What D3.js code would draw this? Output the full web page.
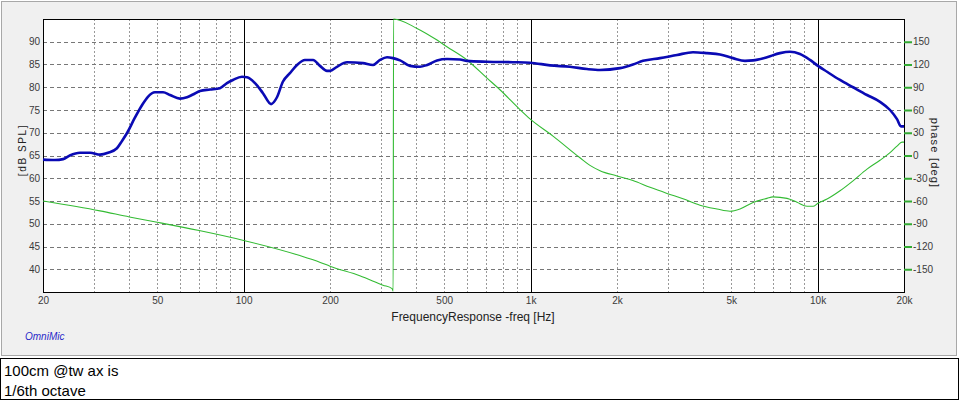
<!DOCTYPE html>
<html>
<head>
<meta charset="utf-8">
<script src="https://cdn.jsdelivr.net/npm/d3@7"></script>
<style>
  body { margin: 0; background: #ffffff; }
  svg text { font-family: "Liberation Sans Narrow", "Arial Narrow", "Liberation Sans", Arial, sans-serif; }
</style>
</head>
<body>
<div id="chart"></div>
<script>
// SPL curve
var splFreq = [20, 22, 23.5, 24.8, 26.9, 29.2, 31.6, 33.7, 36.2, 37.7, 39.3, 41.8, 44.3, 46.4, 49.1, 52.4, 55.4, 60, 63.5, 66.6,
  70.5, 76.4, 82.7, 87.5, 91.8, 98.7, 102.8, 109.6, 116.8, 124.6, 130.7, 137, 145, 153.5, 163.6, 174.6, 184.6, 195.2, 200, 211.5,
  229.3, 260.6, 282.4, 298.7, 316, 331.6, 350.8, 380, 411.9, 435.8, 472, 511.5, 567.6, 600, 704.6, 868, 995, 1169, 1371, 1572,
  1745, 2049, 2273, 2464, 2825, 3238, 3680, 4119, 4571, 5072, 5585, 5957, 6663, 7395, 8015, 8683, 9409, 10028, 10785, 11970,
  13288, 14863, 16498, 17880, 18907, 19523, 20000];
var splDb = [64.1, 64.0, 64.2, 65.0, 65.6, 65.6, 65.2, 65.6, 66.6, 68.2, 70.0, 73.3, 76.1, 77.9, 78.9, 78.9, 78.3, 77.5, 77.8, 78.4,
  79.2, 79.5, 79.8, 80.9, 81.6, 82.3, 82.2, 80.9, 78.7, 76.3, 77.8, 81.2, 83.1, 84.9, 86.0, 86.0, 84.7, 83.6, 83.6, 84.5,
  85.5, 85.3, 84.9, 86.0, 86.6, 86.4, 85.9, 84.7, 84.5, 84.9, 85.9, 86.2, 86.1, 85.8, 85.6, 85.5, 85.4, 84.8, 84.5, 84.0,
  83.8, 84.2, 85.0, 85.8, 86.4, 87.1, 87.7, 87.5, 87.2, 86.4, 85.8, 85.9, 86.6, 87.5, 87.8, 87.3, 86.0, 84.7, 83.4, 81.6,
  80.0, 78.3, 76.8, 75.0, 73.0, 71.4, 71.4];

// phase curve (wrapped at +-180)
var phaseFreq = [20, 31.6, 40, 50, 70, 100, 157, 185, 200, 254, 306, 329, 332, 333, 402, 472, 511, 600, 705, 782,
  918, 995, 1197, 1486, 1610, 1745, 2000, 2273, 2607, 2987, 3397, 3892, 4460, 4953, 5366, 5957, 6663, 6993, 7823, 8477,
  9186, 9640, 10028, 10785, 11970, 13288, 14863, 16498, 17880, 18907, 19680, 20000];
var phaseDeg = [-60, -73, -81, -88, -99, -112, -132, -141, -146, -158.6, -171, -175.5, -179, 180, 167.6, 152.2, 143.4, 126, 102, 86.7,
  60.5, 48.3, 25.6, -3, -13, -20, -27, -33, -42, -50, -57, -65.5, -70.5, -73.5, -70.5, -62, -56.5, -54.5, -56.5, -61.7,
  -67, -67, -63, -57.4, -46.5, -33.4, -18, -6.3, 3.8, 12.4, 17.7, 17.7];

var splTicks = [40, 45, 50, 55, 60, 65, 70, 75, 80, 85, 90];
var phaseTicks = [-150, -120, -90, -60, -30, 0, 30, 60, 90, 120, 150];
var freqTicks = [20, 50, 100, 200, 500, 1000, 2000, 5000, 10000, 20000];
var freqLabels = ["20", "50", "100", "200", "500", "1k", "2k", "5k", "10k", "20k"];

var W = 960, H = 401;
var pL = 43, pR = 904, pT = 19, pB = 292;

var svg = d3.select("#chart").append("svg")
  .attr("width", W).attr("height", H);

// grey panel
svg.append("rect")
  .attr("x", 1.5).attr("y", 1.5).attr("width", 955).attr("height", 354)
  .attr("fill", "#f0f0f0").attr("stroke", "#a8a8a8");

var x = d3.scaleLog().domain([20, 20000]).range([pL, pR]);
var yL = d3.scaleLinear().domain([35, 95]).range([pB, pT]);
var yR = d3.scaleLinear().domain([-180, 180]).range([pB, pT]);

svg.append("rect")
  .attr("x", pL).attr("y", pT).attr("width", pR - pL).attr("height", pB - pT)
  .attr("fill", "#ffffff");

// vertical grid
var decades = [100, 1000, 10000];
var gridF = x.ticks().filter(function(f){ return f > 20 && f < 20000; });
svg.append("g").selectAll("line")
  .data(gridF)
  .enter().append("line")
  .attr("x1", function(d){ return Math.round(x(d)) + 0.5; })
  .attr("x2", function(d){ return Math.round(x(d)) + 0.5; })
  .attr("y1", pT).attr("y2", pB)
  .attr("stroke", function(d){ return decades.indexOf(d) >= 0 ? "#000" : "#999"; })
  .attr("stroke-dasharray", function(d){ return decades.indexOf(d) >= 0 ? null : "2,2"; });

// horizontal grid
svg.append("g").selectAll("line")
  .data(splTicks)
  .enter().append("line")
  .attr("x1", pL).attr("x2", pR)
  .attr("y1", function(d){ return Math.round(yL(d)) + 0.5; })
  .attr("y2", function(d){ return Math.round(yL(d)) + 0.5; })
  .attr("stroke", "#777")
  .attr("stroke-dasharray", "4,3");

// frame
svg.append("rect")
  .attr("x", pL + 0.5).attr("y", pT + 0.5).attr("width", pR - pL).attr("height", pB - pT)
  .attr("fill", "none").attr("stroke", "#000");

// curves
var phaseLine = d3.line()
  .x(function(d){ return x(d[0]); })
  .y(function(d){ return yR(d[1]); })
  .curve(d3.curveMonotoneX);
svg.append("path")
  .datum(d3.zip(phaseFreq, phaseDeg))
  .attr("d", phaseLine)
  .attr("fill", "none").attr("stroke", "#33bb33").attr("stroke-width", 1.1);

var splLine = d3.line()
  .x(function(d){ return x(d[0]); })
  .y(function(d){ return yL(d[1]); })
  .curve(d3.curveMonotoneX);
svg.append("path")
  .datum(d3.zip(splFreq, splDb))
  .attr("d", splLine)
  .attr("fill", "none").attr("stroke", "#0a0ab4").attr("stroke-width", 2.6);

// axes
var axL = svg.append("g").attr("transform", "translate(" + pL + ",0)")
  .call(d3.axisLeft(yL).tickValues(splTicks).tickSize(0).tickPadding(3));
var axR = svg.append("g").attr("transform", "translate(" + pR + ",0)")
  .call(d3.axisRight(yR).tickValues(phaseTicks).tickSize(8).tickPadding(1)
    .tickFormat(function(d){ return d; }));
var axB = svg.append("g").attr("transform", "translate(0," + pB + ")")
  .call(d3.axisBottom(x).tickValues(freqTicks).tickSize(0).tickPadding(5)
    .tickFormat(function(d, i){ return freqLabels[i]; }));

[axL, axR, axB].forEach(function(a){
  a.select(".domain").remove();
  a.selectAll("text").attr("fill", "#3a3a3a").style("font-size", "10px");
});
axR.selectAll(".tick line").attr("stroke", "#33aa33").attr("stroke-width", 2);

// titles
svg.append("text")
  .attr("transform", "translate(26,150) rotate(-90)")
  .attr("text-anchor", "middle")
  .style("font-size", "10px").style("letter-spacing", "1.6px")
  .attr("fill", "#222")
  .text("[dB SPL]");

svg.append("text")
  .attr("transform", "translate(931,153) rotate(90)")
  .attr("text-anchor", "middle")
  .style("font-size", "11px").style("letter-spacing", "1.2px")
  .attr("fill", "#222")
  .text("phase [deg]");

svg.append("text")
  .attr("x", 473).attr("y", 321)
  .attr("text-anchor", "middle")
  .style("font-size", "12px")
  .attr("fill", "#222")
  .text("FrequencyResponse -freq [Hz]");

svg.append("text")
  .attr("x", 25).attr("y", 340)
  .style("font-size", "10px").style("font-style", "italic")
  .attr("fill", "#2828c8")
  .text("OmniMic");

// note box
svg.append("rect")
  .attr("x", 0.5).attr("y", 358.5).attr("width", 958).attr("height", 41)
  .attr("fill", "#ffffff").attr("stroke", "#000");

svg.append("text")
  .attr("x", 4).attr("y", 376)
  .style("font-family", "'Liberation Sans', Arial, sans-serif")
  .style("font-size", "15px").attr("fill", "#000")
  .text("100cm @tw ax is");
svg.append("text")
  .attr("x", 4).attr("y", 396)
  .style("font-family", "'Liberation Sans', Arial, sans-serif")
  .style("font-size", "15px").attr("fill", "#000")
  .text("1/6th octave");
</script>
</body>
</html>
